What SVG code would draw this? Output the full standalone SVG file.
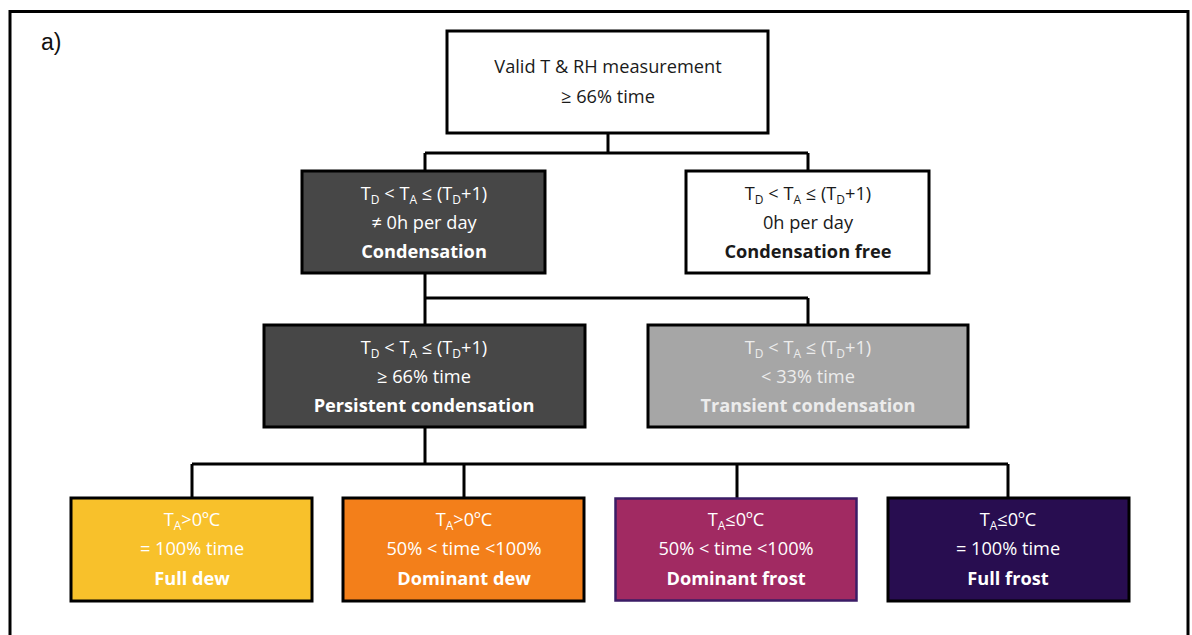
<svg xmlns="http://www.w3.org/2000/svg" width="1192" height="635" viewBox="0 0 1192 635">
<style>
.box{stroke:#000;stroke-width:3}
.t{font-family:"Open Sans","Liberation Sans",Arial,sans-serif;font-size:18.2px;text-anchor:middle}
.b{font-weight:bold}
.dk{fill:#1a1a1a}
.wt{fill:#ffffff}
.lt{fill:#ececec}
.sub{font-size:12px}
.con{fill:none;stroke:#000;stroke-width:3}
</style>
<rect width="1192" height="635" fill="#fff"/>
<rect x="10" y="11.5" width="1178" height="640" fill="none" stroke="#000" stroke-width="3"/>
<text x="41" y="50" font-family="Liberation Sans,Arial,sans-serif" font-size="23" fill="#111">a)</text>

<g id="connectors">
<path class="con" d="M608 133V153M425 153H808M425 153V171M808 153V171"/>
<path class="con" d="M425 273V298M425 298H808M425 298V325M808 298V325"/>
<path class="con" d="M425 427V464M192 464H1008M192 464V498M464 464V498M737 464V498M1008 464V498"/>
</g>

<g id="n-valid">
<rect class="box" x="447" y="31" width="321" height="102" fill="#fff"/>
<text class="t dk" x="608" y="73">Valid T &amp; RH measurement</text>
<text class="t dk" x="608" y="103">≥ 66% time</text>
</g>

<g id="n-condensation">
<rect class="box" x="302" y="171" width="243" height="102" fill="#474747"/>
<text class="t wt" x="424" y="200">T<tspan class="sub" dy="4">D</tspan><tspan dy="-4"> &lt; T</tspan><tspan class="sub" dy="4">A</tspan><tspan dy="-4"> ≤ (T</tspan><tspan class="sub" dy="4">D</tspan><tspan dy="-4">+1)</tspan></text>
<text class="t wt" x="424" y="229">≠ 0h per day</text>
<text class="t wt b" x="424" y="258">Condensation</text>
</g>

<g id="n-free">
<rect class="box" x="686" y="171" width="243" height="102" fill="#fff"/>
<text class="t dk" x="808" y="200">T<tspan class="sub" dy="4">D</tspan><tspan dy="-4"> &lt; T</tspan><tspan class="sub" dy="4">A</tspan><tspan dy="-4"> ≤ (T</tspan><tspan class="sub" dy="4">D</tspan><tspan dy="-4">+1)</tspan></text>
<text class="t dk" x="808" y="229">0h per day</text>
<text class="t dk b" x="808" y="258">Condensation free</text>
</g>

<g id="n-persistent">
<rect class="box" x="264" y="325" width="321" height="102" fill="#474747"/>
<text class="t wt" x="424" y="354">T<tspan class="sub" dy="4">D</tspan><tspan dy="-4"> &lt; T</tspan><tspan class="sub" dy="4">A</tspan><tspan dy="-4"> ≤ (T</tspan><tspan class="sub" dy="4">D</tspan><tspan dy="-4">+1)</tspan></text>
<text class="t wt" x="424" y="383">≥ 66% time</text>
<text class="t wt b" x="424" y="412">Persistent  condensation</text>
</g>

<g id="n-transient">
<rect class="box" x="648" y="325" width="320" height="102" fill="#a6a6a6"/>
<text class="t lt" x="808" y="354">T<tspan class="sub" dy="4">D</tspan><tspan dy="-4"> &lt; T</tspan><tspan class="sub" dy="4">A</tspan><tspan dy="-4"> ≤ (T</tspan><tspan class="sub" dy="4">D</tspan><tspan dy="-4">+1)</tspan></text>
<text class="t lt" x="808" y="383">&lt; 33%  time</text>
<text class="t lt b" x="808" y="412">Transient condensation</text>
</g>

<g id="n-fulldew">
<rect class="box" x="71" y="498" width="241" height="103" fill="#f8c12b"/>
<text class="t wt" x="192" y="526">T<tspan class="sub" dy="4">A</tspan><tspan dy="-4">&gt;0ºC</tspan></text>
<text class="t wt" x="192" y="555">= 100% time</text>
<text class="t wt b" x="192" y="585">Full dew</text>
</g>

<g id="n-domdew">
<rect class="box" x="343" y="498" width="241" height="103" fill="#f37f1a"/>
<text class="t wt" x="464" y="526">T<tspan class="sub" dy="4">A</tspan><tspan dy="-4">&gt;0ºC</tspan></text>
<text class="t wt" x="464" y="555">50% &lt; time &lt;100%</text>
<text class="t wt b" x="464" y="585">Dominant  dew</text>
</g>

<g id="n-domfrost">
<rect x="615.5" y="498.5" width="241" height="102" fill="#a12a62" stroke="#3b1c66" stroke-width="2.5"/>
<text class="t wt" x="736" y="526">T<tspan class="sub" dy="4">A</tspan><tspan dy="-4">≤0ºC</tspan></text>
<text class="t wt" x="736" y="555">50% &lt; time &lt;100%</text>
<text class="t wt b" x="736" y="585">Dominant frost</text>
</g>

<g id="n-fullfrost">
<rect class="box" x="888" y="498" width="241" height="103" fill="#280d50"/>
<text class="t wt" x="1008" y="526">T<tspan class="sub" dy="4">A</tspan><tspan dy="-4">≤0ºC</tspan></text>
<text class="t wt" x="1008" y="555">= 100% time</text>
<text class="t wt b" x="1008" y="585">Full frost</text>
</g>
</svg>
